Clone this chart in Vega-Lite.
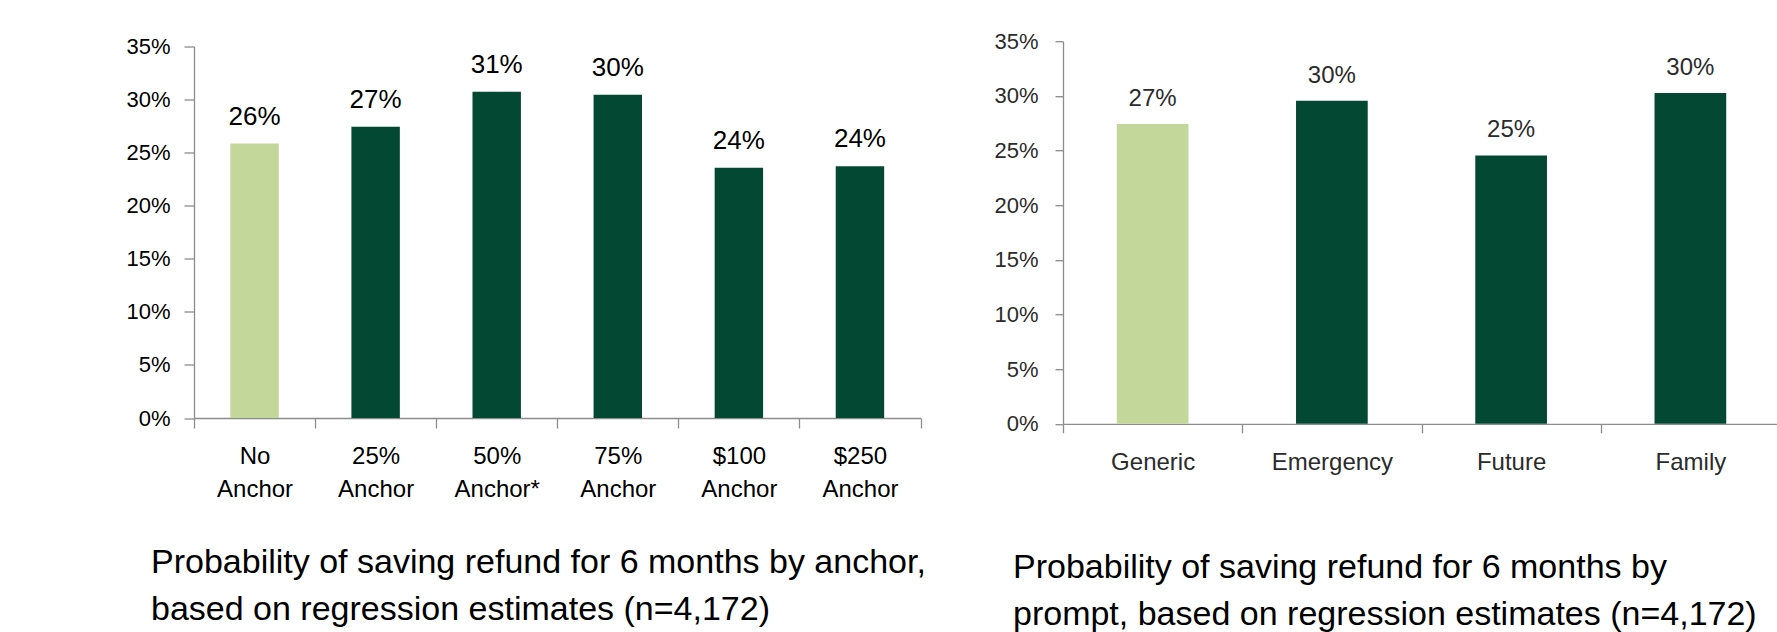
{
  "$schema": "https://vega.github.io/schema/vega-lite/v6.json",
  "background": "white",
  "padding": {"left": 125, "top": 30, "right": 0, "bottom": 0},
  "datasets": {
    "anchor": [
      {"category": "No Anchor", "p": 0.2586, "group": "Control"},
      {"category": "25% Anchor", "p": 0.2743, "group": "Treatment"},
      {"category": "50% Anchor*", "p": 0.3073, "group": "Treatment"},
      {"category": "75% Anchor", "p": 0.3045, "group": "Treatment"},
      {"category": "$100 Anchor", "p": 0.2357, "group": "Treatment"},
      {"category": "$250 Anchor", "p": 0.2372, "group": "Treatment"}
    ],
    "prompt": [
      {"category": "Generic", "p": 0.2742, "group": "Control"},
      {"category": "Emergency", "p": 0.2955, "group": "Treatment"},
      {"category": "Future", "p": 0.2455, "group": "Treatment"},
      {"category": "Family", "p": 0.3026, "group": "Treatment"}
    ]
  },
  "hconcat": [
    {
      "width": 726.5,
      "height": 371.5,
      "data": {"name": "anchor"},
      "title": {
        "text": ["Probability of saving refund for 6 months by anchor,", "based on regression estimates (n=4,172)"],
        "orient": "bottom", "anchor": "start", "frame": "group",
        "dx": -43, "offset": 44, "fontSize": 34, "fontWeight": "normal",
        "lineHeight": 47, "color": "#000000", "font": "Liberation Sans"
      },
      "encoding": {
        "x": {
          "field": "category", "type": "nominal", "sort": null,
          "scale": {"paddingInner": 0, "paddingOuter": 0},
          "axis": {
            "title": null, "labelAngle": 0, "labelExpr": "split(datum.label, ' ')",
            "labelFontSize": 24, "labelLineHeight": 33.5, "labelPadding": 16,
            "labelFont": "Liberation Sans", "labelColor": "#000000",
            "tickBand": "extent", "tickSize": 10, "tickColor": "#8c8c8c",
            "domainColor": "#8c8c8c", "domainWidth": 1.3, "tickWidth": 1.3
          }
        },
        "y": {
          "field": "p", "type": "quantitative",
          "scale": {"domain": [0, 0.35], "nice": false},
          "axis": {
            "title": null, "values": [0, 0.05, 0.1, 0.15, 0.2, 0.25, 0.3, 0.35],
            "format": ".0%", "grid": false, "labelFontSize": 22, "labelPadding": 14,
            "labelFont": "Liberation Sans", "labelColor": "#000000",
            "tickSize": 10, "tickColor": "#8c8c8c", "domainColor": "#8c8c8c",
            "domainWidth": 1.3, "tickWidth": 1.3
          }
        }
      },
      "layer": [
        {
          "mark": {"type": "bar", "width": {"band": 0.4}},
          "encoding": {
            "color": {"field": "group", "type": "nominal", "legend": null,
              "scale": {"domain": ["Control", "Treatment"], "range": ["#c4d79b", "#034832"]}}
          }
        },
        {
          "mark": {"type": "text", "baseline": "alphabetic", "dy": -19, "fontSize": 26,
            "font": "Liberation Sans", "color": "#000000"},
          "encoding": {"text": {"field": "p", "format": ".0%"}}
        }
      ]
    },
    {
      "width": 717,
      "height": 382.6,
      "data": {"name": "prompt"},
      "title": {
        "text": ["Probability of saving refund for 6 months by", "prompt, based on regression estimates (n=4,172)"],
        "orient": "bottom", "anchor": "start", "frame": "group",
        "dx": -50, "offset": 76, "fontSize": 34, "fontWeight": "normal",
        "lineHeight": 47, "color": "#000000", "font": "Liberation Sans"
      },
      "encoding": {
        "x": {
          "field": "category", "type": "nominal", "sort": null,
          "scale": {"paddingInner": 0, "paddingOuter": 0},
          "axis": {
            "title": null, "labelAngle": 0,
            "labelFontSize": 24, "labelPadding": 18,
            "labelFont": "Liberation Sans", "labelColor": "#2b2b2b",
            "tickBand": "extent", "tickSize": 9, "tickColor": "#8c8c8c",
            "domainColor": "#8c8c8c", "domainWidth": 1.3, "tickWidth": 1.3
          }
        },
        "y": {
          "field": "p", "type": "quantitative",
          "scale": {"domain": [0, 0.35], "nice": false},
          "axis": {
            "title": null, "values": [0, 0.05, 0.1, 0.15, 0.2, 0.25, 0.3, 0.35],
            "format": ".0%", "grid": false, "labelFontSize": 22, "labelPadding": 17,
            "labelFont": "Liberation Sans", "labelColor": "#2b2b2b",
            "tickSize": 8, "tickColor": "#8c8c8c", "domainColor": "#8c8c8c",
            "domainWidth": 1.3, "tickWidth": 1.3
          }
        }
      },
      "layer": [
        {
          "mark": {"type": "bar", "width": {"band": 0.4}},
          "encoding": {
            "color": {"field": "group", "type": "nominal", "legend": null,
              "scale": {"domain": ["Control", "Treatment"], "range": ["#c4d79b", "#034832"]}}
          }
        },
        {
          "mark": {"type": "text", "baseline": "alphabetic", "dy": -18, "fontSize": 24,
            "font": "Liberation Sans", "color": "#2b2b2b"},
          "encoding": {"text": {"field": "p", "format": ".0%"}}
        }
      ]
    }
  ],
  "spacing": 67,
  "center": {"row": true},
  "align": {"row": "each", "column": "none"},
  "config": {"view": {"stroke": null}}
}
